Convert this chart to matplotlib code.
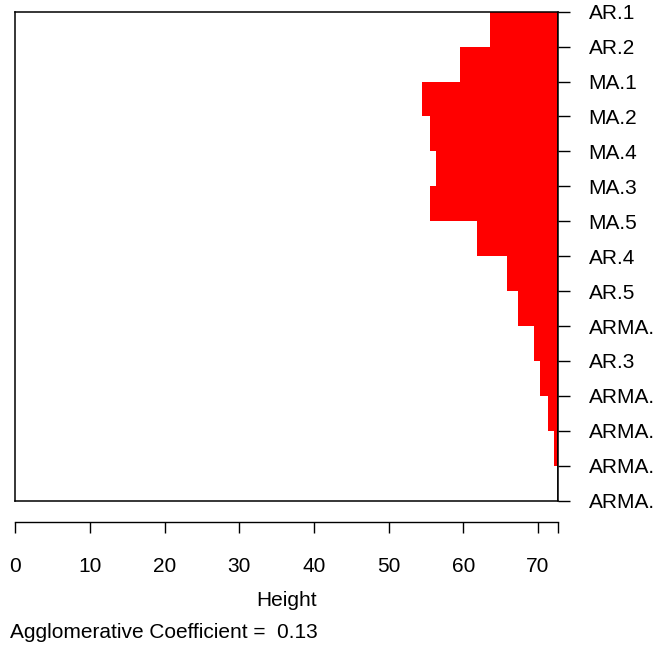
import matplotlib
matplotlib.use("Agg")
import matplotlib.pyplot as plt

plt.rcParams['font.family'] = ['Liberation Sans', 'DejaVu Sans']

# Banner data: order of observations (as printed, long names cut at the
# device edge) and merge heights between neighbours
labels = ["AR.1", "AR.2", "MA.1", "MA.2", "MA.4", "MA.3", "MA.5", "AR.4",
          "AR.5", "ARMA.", "AR.3", "ARMA.", "ARMA.", "ARMA.", "ARMA."]
heights = [63.6, 59.6, 54.5, 55.6, 56.3, 55.5, 61.8, 65.9,
           67.4, 69.5, 70.3, 71.3, 72.1, 72.7]
x_ticks = [0, 10, 20, 30, 40, 50, 60, 70]
ac = 0.13

FS = 15
W, H = 660, 651
fig = plt.figure(figsize=(W / 100, H / 100), dpi=100)

left, right = 15.3 / W, 558 / W
top, bottom = 1 - 11.7 / H, 1 - 500.7 / H
ax = fig.add_axes([left, bottom, right - left, top - bottom])

hmax = max(heights)
n = len(labels)
ypos = [i + 0.5 for i in range(n - 1)]
ax.barh(ypos, [hmax - h for h in heights], left=heights, height=1.0,
        color='red', edgecolor='none')
ax.axvline(hmax, color='black', lw=1.2)

ax.set_xlim(0, hmax)
ax.set_ylim(n - 1, 0)
for s in ax.spines.values():
    s.set_linewidth(1.1)

ax.set_xticks([])
ax.yaxis.tick_right()
ax.set_yticks(range(n))
ax.set_yticklabels(labels, fontsize=FS)
ax.tick_params(axis='y', direction='out', length=8.6, width=1.0, pad=13.5)

# separate height axis below the box
ax2 = fig.add_axes([left, 1 - 522 / H, right - left, 0.0001])
ax2.set_xlim(0, hmax)
ax2.set_yticks([])
for k in ['top', 'left', 'right']:
    ax2.spines[k].set_visible(False)
ax2.spines['bottom'].set_bounds(0, hmax)
ax2.spines['bottom'].set_linewidth(1.0)
ax2.patch.set_visible(False)
ax2.set_xticks(x_ticks + [hmax])
ax2.set_xticklabels([str(t) for t in x_ticks] + [""], fontsize=FS)
ax2.tick_params(axis='x', direction='out', length=8, width=1.0, pad=17)

fig.text((left + right) / 2, 1 - 600 / H, "Height", ha='center', va='center',
         fontsize=FS)
fig.text(10 / W, 1 - 633 / H, f"Agglomerative Coefficient =  {ac:.2f}",
         ha='left', va='center', fontsize=FS)

fig.savefig("out.png", dpi=100)
